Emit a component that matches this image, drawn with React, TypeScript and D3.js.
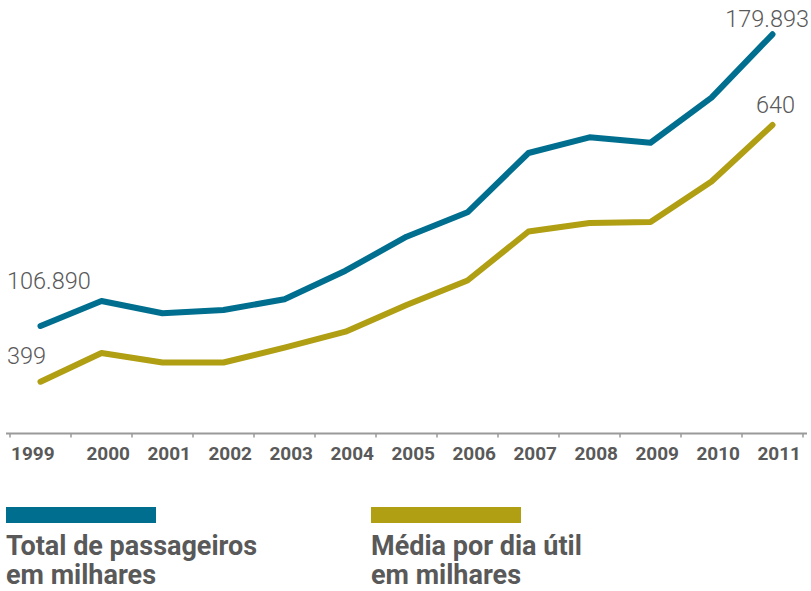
import React from "react";
import * as d3 from "d3";

const years = ["1999","2000","2001","2002","2003","2004","2005","2006","2007","2008","2009","2010","2011"];
const totalPassengers = [106890,113150,110070,110890,113600,120730,129240,135350,150190,154120,152760,164030,179893];
const weekdayAverage = [399,426,417,417,431,446,471,494,540,548,549,587,640];
const totalLabels = ["106.890","179.893"];
const averageLabels = ["399","640"];
const legendTotal = ["Total de passageiros","em milhares"];
const legendAverage = ["Média por dia útil","em milhares"];

const W = 811, H = 591;
const BLUE = "#006f8f";
const OLIVE = "#b09e13";
const TEXT = "#595959";
const AXIS = "#9a9a9a";

export default function App() {
  const x = d3.scaleBand<string>().domain(years).range([10, 803]).padding(0);
  const bw = x.bandwidth();
  const cx = (yr: string) => (x(yr) as number) + bw / 2;

  const yTotal = d3.scaleLinear().domain([106890, 179893]).range([326, 34.3]);
  const yAvg = d3.scaleLinear().domain([399, 640]).range([381.7, 125]);

  const lineTotal = d3.line<number>().x((_, i) => cx(years[i])).y(d => yTotal(d));
  const lineAvg = d3.line<number>().x((_, i) => cx(years[i])).y(d => yAvg(d));

  const axisY = 433.5;
  const tickXs = years.map(yr => x(yr) as number).concat([(x(years[years.length - 1]) as number) + bw]);
  const last = years.length - 1;

  return (
    <svg width={W} height={H} style={{ position: "absolute", left: 0, top: 0, background: "#fff" }}>
      {/* axis */}
      <line x1={6} x2={807} y1={axisY} y2={axisY} stroke={AXIS} strokeWidth={2} />
      {tickXs.map((tx, i) => (
        <line key={i} x1={tx} x2={tx} y1={axisY} y2={axisY + 4} stroke={AXIS} strokeWidth={1.5} />
      ))}
      {years.map((yr, i) => {
        const left = x(yr) as number;
        return i === 0 ? (
          <text key={yr} x={left + 1} y={460} textAnchor="start" fontFamily="Roboto" fontWeight={700} fontSize={19} fill={TEXT}>{yr}</text>
        ) : (
          <text key={yr} x={left + bw - 2} y={460} textAnchor="end" fontFamily="Roboto" fontWeight={700} fontSize={19} fill={TEXT}>{yr}</text>
        );
      })}

      {/* lines */}
      <path d={lineTotal(totalPassengers) as string} fill="none" stroke={BLUE} strokeWidth={6} strokeLinecap="round" strokeLinejoin="round" />
      <path d={lineAvg(weekdayAverage) as string} fill="none" stroke={OLIVE} strokeWidth={6} strokeLinecap="round" strokeLinejoin="round" />

      {/* value labels */}
      <text x={7} y={yTotal(totalPassengers[0]) - 37} fontFamily="Roboto" fontWeight={300} fontSize={23.5} fill={TEXT}>{totalLabels[0]}</text>
      <text x={7} y={yAvg(weekdayAverage[0]) - 17.7} fontFamily="Roboto" fontWeight={300} fontSize={23.5} fill={TEXT}>{averageLabels[0]}</text>
      <text x={cx(years[last]) + 36.5} y={yTotal(totalPassengers[last]) - 7.3} textAnchor="end" fontFamily="Roboto" fontWeight={300} fontSize={23.5} fill={TEXT}>{totalLabels[1]}</text>
      <text x={cx(years[last]) + 22.5} y={yAvg(weekdayAverage[last]) - 12} textAnchor="end" fontFamily="Roboto" fontWeight={300} fontSize={23.5} fill={TEXT}>{averageLabels[1]}</text>

      {/* legend */}
      <rect x={6} y={507} width={150} height={16} fill={BLUE} />
      <rect x={371} y={507} width={150} height={16} fill={OLIVE} />
      {legendTotal.map((t, i) => (
        <text key={t} x={6} y={555 + i * 29} fontFamily="Roboto" fontWeight={700} fontSize={27} fill={TEXT}>{t}</text>
      ))}
      {legendAverage.map((t, i) => (
        <text key={t} x={371} y={555 + i * 29} fontFamily="Roboto" fontWeight={700} fontSize={27} fill={TEXT}>{t}</text>
      ))}
    </svg>
  );
}
